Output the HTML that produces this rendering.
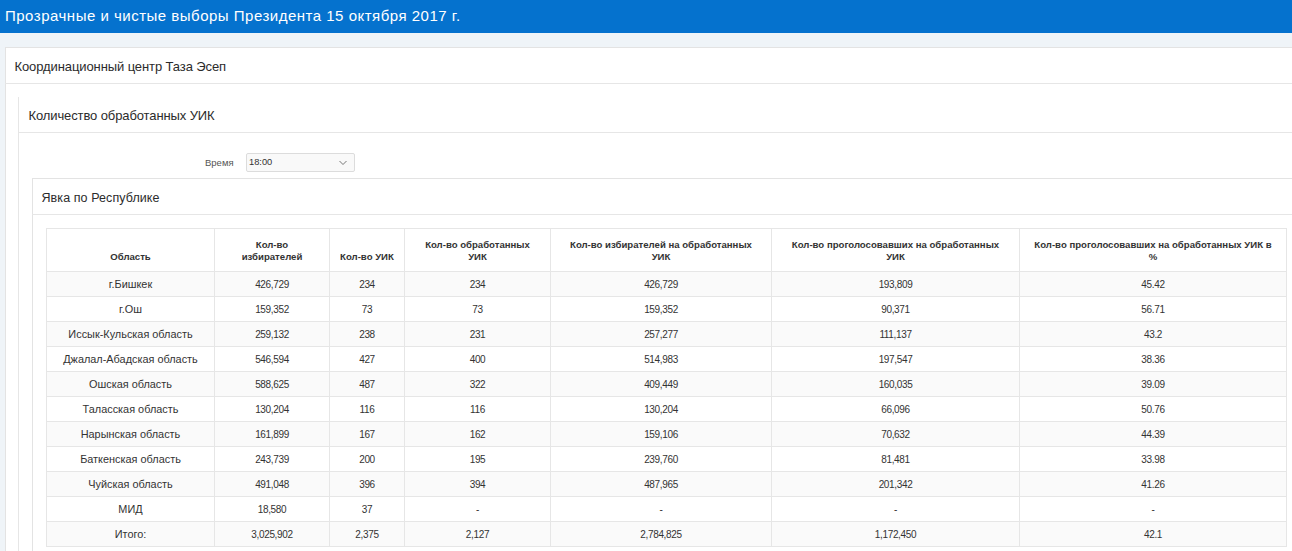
<!DOCTYPE html>
<html><head><meta charset="utf-8">
<style>
*{box-sizing:border-box;margin:0;padding:0}
html,body{width:1292px;height:551px;overflow:hidden;background:#eff4f8;font-family:"Liberation Sans",sans-serif;color:#333}
.abs{position:absolute}
#hdr{left:0;top:0;width:1292px;height:33px;background:#0572ce}
#title{left:5px;top:7px;font-size:15px;letter-spacing:0.5px;color:#fff;white-space:nowrap;line-height:18px}
#p1{left:5px;top:47px;width:1400px;height:600px;background:#fff;border:1px solid #e3e3e3}
#p1h{left:5px;top:83px;width:1400px;height:1px;background:#e6e6e6}
#t1{left:14.5px;top:59px;font-size:13px;letter-spacing:-0.1px;line-height:15px;white-space:nowrap;color:#2b2b2b}
#p2l{left:18px;top:97px;width:1px;height:500px;background:#e6e6e6}
#p2h{left:18px;top:132px;width:1400px;height:1px;background:#e6e6e6}
#t2{left:28.5px;top:108px;font-size:13px;letter-spacing:-0.11px;line-height:15px;white-space:nowrap;color:#2b2b2b}
#lbl{left:205px;top:156.5px;font-size:9.5px;line-height:12px;color:#555;white-space:nowrap}
#sel{left:246px;top:153px;width:109px;height:19px;border:1px solid #dcdcdc;border-radius:2px;background:#f9f9f9}
#selt{left:249px;top:156px;font-size:9.3px;line-height:12px;color:#333;white-space:nowrap}
#chev{left:339px;top:160px;width:8px;height:6px}
#p3{left:32px;top:178px;width:1400px;height:500px;border:1px solid #e3e3e3;background:#fff}
#p3h{left:32px;top:214px;width:1400px;height:1px;background:#e6e6e6}
#t3{left:41.5px;top:191px;font-size:12.5px;letter-spacing:0.08px;line-height:15px;white-space:nowrap;color:#2b2b2b}
table{position:absolute;left:46px;top:228px;border-collapse:collapse;table-layout:fixed;background:#fff}
td,th{border:1px solid #e6e6e6;text-align:center;font-size:10px;letter-spacing:-0.35px;color:#333;white-space:nowrap;overflow:hidden}
th{font-weight:bold;height:43px;vertical-align:bottom;padding-bottom:8px;line-height:12px;color:#333;font-size:9.6px;letter-spacing:0}
td{height:25px;line-height:12px;padding-top:2px}
tr.o td{background:#fafafa}
td.n{font-size:10.9px;padding-top:0;letter-spacing:0}
</style></head>
<body>
<div id="hdr" class="abs"></div>
<div id="title" class="abs">Прозрачные и чистые выборы Президента 15 октября 2017 г.</div>
<div id="p1" class="abs"></div>
<div id="p1h" class="abs"></div>
<div id="t1" class="abs">Координационный центр Таза Эсеп</div>
<div id="p2l" class="abs"></div>
<div id="p2h" class="abs"></div>
<div id="t2" class="abs">Количество обработанных УИК</div>
<div id="lbl" class="abs">Время</div>
<div id="sel" class="abs"></div>
<div id="selt" class="abs">18:00</div>
<svg id="chev" class="abs" viewBox="0 0 8 6"><path d="M0.5 1 L4 4.5 L7.5 1" fill="none" stroke="#666" stroke-width="0.9"/></svg>
<div id="p3" class="abs"></div>
<div id="p3h" class="abs"></div>
<div id="t3" class="abs">Явка по Республике</div>
<table>
<colgroup><col style="width:168px"><col style="width:115px"><col style="width:75px"><col style="width:146px"><col style="width:221px"><col style="width:248px"><col style="width:267px"></colgroup>
<tr><th>Область</th><th>Кол-во<br>избирателей</th><th>Кол-во УИК</th><th>Кол-во обработанных<br>УИК</th><th>Кол-во избирателей на обработанных<br>УИК</th><th>Кол-во проголосовавших на обработанных<br>УИК</th><th>Кол-во проголосовавших на обработанных УИК в<br>%</th></tr>
<tr class="o"><td class="n">г.Бишкек</td><td>426,729</td><td>234</td><td>234</td><td>426,729</td><td>193,809</td><td>45.42</td></tr>
<tr><td class="n">г.Ош</td><td>159,352</td><td>73</td><td>73</td><td>159,352</td><td>90,371</td><td>56.71</td></tr>
<tr class="o"><td class="n">Иссык-Кульская область</td><td>259,132</td><td>238</td><td>231</td><td>257,277</td><td>111,137</td><td>43.2</td></tr>
<tr><td class="n">Джалал-Абадская область</td><td>546,594</td><td>427</td><td>400</td><td>514,983</td><td>197,547</td><td>38.36</td></tr>
<tr class="o"><td class="n">Ошская область</td><td>588,625</td><td>487</td><td>322</td><td>409,449</td><td>160,035</td><td>39.09</td></tr>
<tr><td class="n">Таласская область</td><td>130,204</td><td>116</td><td>116</td><td>130,204</td><td>66,096</td><td>50.76</td></tr>
<tr class="o"><td class="n">Нарынская область</td><td>161,899</td><td>167</td><td>162</td><td>159,106</td><td>70,632</td><td>44.39</td></tr>
<tr><td class="n">Баткенская область</td><td>243,739</td><td>200</td><td>195</td><td>239,760</td><td>81,481</td><td>33.98</td></tr>
<tr class="o"><td class="n">Чуйская область</td><td>491,048</td><td>396</td><td>394</td><td>487,965</td><td>201,342</td><td>41.26</td></tr>
<tr><td class="n">МИД</td><td>18,580</td><td>37</td><td>-</td><td>-</td><td>-</td><td>-</td></tr>
<tr class="o"><td class="n">Итого:</td><td>3,025,902</td><td>2,375</td><td>2,127</td><td>2,784,825</td><td>1,172,450</td><td>42.1</td></tr>
</table>
</body></html>
